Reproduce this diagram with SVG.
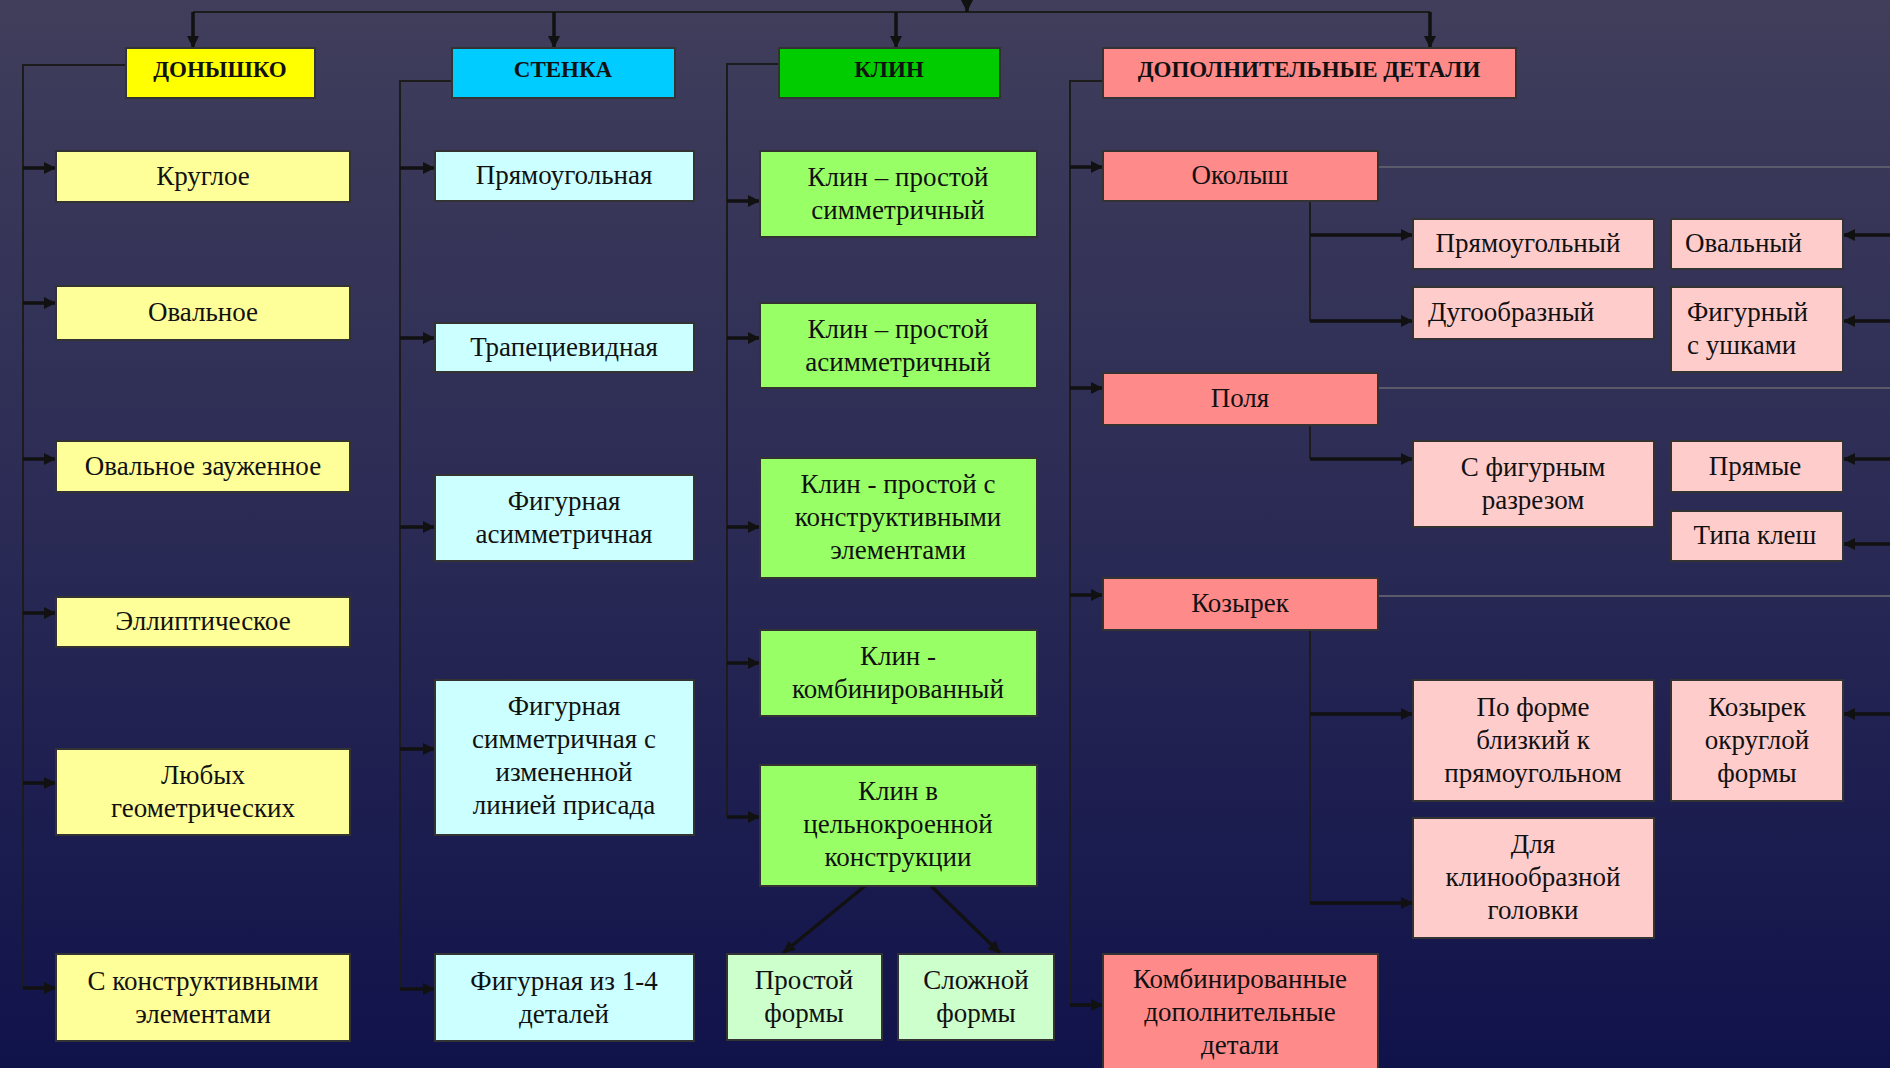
<svg xmlns="http://www.w3.org/2000/svg" width="1890" height="1068" viewBox="0 0 1890 1068">
<defs>
<linearGradient id="bg" x1="0" y1="0" x2="0" y2="1">
<stop offset="0" stop-color="#403e5b"/>
<stop offset="0.5" stop-color="#2a2a55"/>
<stop offset="1" stop-color="#10124a"/>
</linearGradient>
<marker id="ah" viewBox="0 0 12 12" refX="12" refY="6" markerWidth="12" markerHeight="12" markerUnits="userSpaceOnUse" orient="auto">
<path d="M0,0 L12,6 L0,12 z" fill="#111"/>
</marker>
<style>
.box{stroke:#333;stroke-width:2}
.t{font-family:"Liberation Serif","Times New Roman",serif;font-size:27px;fill:#111;text-anchor:middle}
.ts{font-family:"Liberation Serif","Times New Roman",serif;font-size:27px;fill:#111;text-anchor:start}
.h{font-family:"Liberation Serif","Times New Roman",serif;font-size:23px;font-weight:bold;fill:#111;text-anchor:middle}
.y0{fill:#ffff00}.y1{fill:#ffff99}
.c0{fill:#00ccff}.c1{fill:#ccffff}
.g0{fill:#00cc00}.g1{fill:#99ff66}.g2{fill:#ccffcc}
.p0{fill:#ff8a8a}.p1{fill:#ffcccc}
.trunk{fill:none;stroke:#1c1c1c;stroke-width:2}
.gl{fill:none;stroke:#5a5a6a;stroke-width:2}
.stub{fill:none;stroke:#111;stroke-width:3.5;marker-end:url(#ah)}
</style>
</defs>
<rect width="1890" height="1068" fill="url(#bg)"/>

<g id="connectors">
<path class="trunk" d="M193,12 H1430"/>
<path class="stub" d="M967,0 V12"/>
<path class="stub" d="M193,12 V48"/>
<path class="stub" d="M554,12 V48"/>
<path class="stub" d="M896,12 V48"/>
<path class="stub" d="M1430,12 V48"/>
<path class="trunk" d="M126,65 H23 V988"/>
<path class="stub" d="M23,168 H56"/>
<path class="stub" d="M23,303 H56"/>
<path class="stub" d="M23,459 H56"/>
<path class="stub" d="M23,613 H56"/>
<path class="stub" d="M23,783 H56"/>
<path class="stub" d="M23,988 H56"/>
<path class="trunk" d="M452,81 H400 V989"/>
<path class="stub" d="M400,168 H435"/>
<path class="stub" d="M400,338 H435"/>
<path class="stub" d="M400,527 H435"/>
<path class="stub" d="M400,749 H435"/>
<path class="stub" d="M400,989 H435"/>
<path class="trunk" d="M779,64 H727 V817"/>
<path class="stub" d="M727,201 H760"/>
<path class="stub" d="M727,338 H760"/>
<path class="stub" d="M727,527 H760"/>
<path class="stub" d="M727,663 H760"/>
<path class="stub" d="M727,817 H760"/>
<path class="stub" d="M865,886 L783,953"/>
<path class="stub" d="M931,886 L1000,953"/>
<path class="trunk" d="M1103,81 H1070 V1005"/>
<path class="stub" d="M1070,167 H1103"/>
<path class="stub" d="M1070,388 H1103"/>
<path class="stub" d="M1070,595 H1103"/>
<path class="stub" d="M1070,1005 H1103"/>
<path class="trunk" d="M1310,201 V321"/>
<path class="stub" d="M1310,235 H1413"/>
<path class="stub" d="M1310,321 H1413"/>
<path class="trunk" d="M1310,425 V459"/>
<path class="stub" d="M1310,459 H1413"/>
<path class="trunk" d="M1310,630 V903"/>
<path class="stub" d="M1310,714 H1413"/>
<path class="stub" d="M1310,903 H1413"/>
<path class="gl" d="M1378,167 H1890"/>
<path class="gl" d="M1378,388 H1890"/>
<path class="gl" d="M1378,596 H1890"/>
<path class="stub" d="M1890,235 H1843"/>
<path class="stub" d="M1890,321 H1843"/>
<path class="stub" d="M1890,459 H1843"/>
<path class="stub" d="M1890,544 H1843"/>
<path class="stub" d="M1890,714 H1843"/>
</g>

<g id="n-donyshko"><rect class="box y0" x="126" y="48" width="189" height="50"/><text class="h" x="220" y="77">ДОНЫШКО</text></g>
<g id="n-stenka"><rect class="box c0" x="452" y="48" width="223" height="50"/><text class="h" x="563" y="77">СТЕНКА</text></g>
<g id="n-klin"><rect class="box g0" x="779" y="48" width="221" height="50"/><text class="h" x="889" y="77">КЛИН</text></g>
<g id="n-dop"><rect class="box p0" x="1103" y="48" width="413" height="50"/><text class="h" x="1309" y="77">ДОПОЛНИТЕЛЬНЫЕ ДЕТАЛИ</text></g>

<g id="n-krugloe"><rect class="box y1" x="56" y="151" width="294" height="51"/><text class="t" x="203" y="185">Круглое</text></g>
<g id="n-ovalnoe"><rect class="box y1" x="56" y="286" width="294" height="54"/><text class="t" x="203" y="321">Овальное</text></g>
<g id="n-ovalnoe-z"><rect class="box y1" x="56" y="441" width="294" height="51"/><text class="t" x="203" y="475">Овальное зауженное</text></g>
<g id="n-ellipt"><rect class="box y1" x="56" y="597" width="294" height="50"/><text class="t" x="203" y="630">Эллиптическое</text></g>
<g id="n-lyubyh"><rect class="box y1" x="56" y="749" width="294" height="86"/><text class="t" x="203" y="784"><tspan x="203">Любых</tspan><tspan x="203" dy="33">геометрических</tspan></text></g>
<g id="n-s-konstr"><rect class="box y1" x="56" y="954" width="294" height="87"/><text class="t" x="203" y="990"><tspan x="203">С конструктивными</tspan><tspan x="203" dy="33">элементами</tspan></text></g>

<g id="n-pryam"><rect class="box c1" x="435" y="151" width="259" height="50"/><text class="t" x="564" y="184">Прямоугольная</text></g>
<g id="n-trap"><rect class="box c1" x="435" y="323" width="259" height="49"/><text class="t" x="564" y="356">Трапециевидная</text></g>
<g id="n-fig-asim"><rect class="box c1" x="435" y="475" width="259" height="86"/><text class="t" x="564" y="510"><tspan x="564">Фигурная</tspan><tspan x="564" dy="33">асимметричная</tspan></text></g>
<g id="n-fig-sim"><rect class="box c1" x="435" y="680" width="259" height="155"/><text class="t" x="564" y="715"><tspan x="564">Фигурная</tspan><tspan x="564" dy="33">симметричная с</tspan><tspan x="564" dy="33">измененной</tspan><tspan x="564" dy="33">линией присада</tspan></text></g>
<g id="n-fig-14"><rect class="box c1" x="435" y="954" width="259" height="87"/><text class="t" x="564" y="990"><tspan x="564">Фигурная из 1-4</tspan><tspan x="564" dy="33">деталей</tspan></text></g>

<g id="n-klin-sim"><rect class="box g1" x="760" y="151" width="277" height="86"/><text class="t" x="898" y="186"><tspan x="898">Клин – простой</tspan><tspan x="898" dy="33">симметричный</tspan></text></g>
<g id="n-klin-asim"><rect class="box g1" x="760" y="303" width="277" height="85"/><text class="t" x="898" y="338"><tspan x="898">Клин – простой</tspan><tspan x="898" dy="33">асимметричный</tspan></text></g>
<g id="n-klin-konstr"><rect class="box g1" x="760" y="458" width="277" height="120"/><text class="t" x="898" y="493"><tspan x="898">Клин - простой с</tspan><tspan x="898" dy="33">конструктивными</tspan><tspan x="898" dy="33">элементами</tspan></text></g>
<g id="n-klin-komb"><rect class="box g1" x="760" y="630" width="277" height="86"/><text class="t" x="898" y="665"><tspan x="898">Клин -</tspan><tspan x="898" dy="33">комбинированный</tspan></text></g>
<g id="n-klin-cel"><rect class="box g1" x="760" y="765" width="277" height="121"/><text class="t" x="898" y="800"><tspan x="898">Клин в</tspan><tspan x="898" dy="33">цельнокроенной</tspan><tspan x="898" dy="33">конструкции</tspan></text></g>
<g id="n-prostoy"><rect class="box g2" x="727" y="954" width="155" height="86"/><text class="t" x="804" y="989"><tspan x="804">Простой</tspan><tspan x="804" dy="33">формы</tspan></text></g>
<g id="n-slozhnoy"><rect class="box g2" x="898" y="954" width="156" height="86"/><text class="t" x="976" y="989"><tspan x="976">Сложной</tspan><tspan x="976" dy="33">формы</tspan></text></g>

<g id="n-okolysh"><rect class="box p0" x="1103" y="151" width="275" height="50"/><text class="t" x="1240" y="184">Околыш</text></g>
<g id="n-polya"><rect class="box p0" x="1103" y="373" width="275" height="52"/><text class="t" x="1240" y="407">Поля</text></g>
<g id="n-kozyrek"><rect class="box p0" x="1103" y="578" width="275" height="52"/><text class="t" x="1240" y="612">Козырек</text></g>
<g id="n-komb-dop"><rect class="box p0" x="1103" y="954" width="275" height="125"/><text class="t" x="1240" y="988"><tspan x="1240">Комбинированные</tspan><tspan x="1240" dy="33">дополнительные</tspan><tspan x="1240" dy="33">детали</tspan></text></g>

<g id="n-pryamougolny"><rect class="box p1" x="1413" y="219" width="241" height="50"/><text class="t" x="1528" y="252">Прямоугольный</text></g>
<g id="n-dugoobr"><rect class="box p1" x="1413" y="287" width="241" height="52"/><text class="ts" x="1428" y="321">Дугообразный</text></g>
<g id="n-ovalny"><rect class="box p1" x="1671" y="219" width="172" height="50"/><text class="ts" x="1685" y="252">Овальный</text></g>
<g id="n-figurny"><rect class="box p1" x="1671" y="287" width="172" height="85"/><text class="ts" x="1687" y="321"><tspan x="1687">Фигурный</tspan><tspan x="1687" dy="33">с ушками</tspan></text></g>
<g id="n-s-fig-razr"><rect class="box p1" x="1413" y="441" width="241" height="86"/><text class="t" x="1533" y="476"><tspan x="1533">С фигурным</tspan><tspan x="1533" dy="33">разрезом</tspan></text></g>
<g id="n-pryamye"><rect class="box p1" x="1671" y="441" width="172" height="51"/><text class="t" x="1755" y="475">Прямые</text></g>
<g id="n-klesh"><rect class="box p1" x="1671" y="511" width="172" height="50"/><text class="t" x="1755" y="544">Типа клеш</text></g>
<g id="n-po-forme"><rect class="box p1" x="1413" y="680" width="241" height="121"/><text class="t" x="1533" y="716"><tspan x="1533">По форме</tspan><tspan x="1533" dy="33">близкий к</tspan><tspan x="1533" dy="33">прямоугольном</tspan></text></g>
<g id="n-kozyrek-okr"><rect class="box p1" x="1671" y="680" width="172" height="121"/><text class="t" x="1757" y="716"><tspan x="1757">Козырек</tspan><tspan x="1757" dy="33">округлой</tspan><tspan x="1757" dy="33">формы</tspan></text></g>
<g id="n-dlya-klin"><rect class="box p1" x="1413" y="818" width="241" height="120"/><text class="t" x="1533" y="853"><tspan x="1533">Для</tspan><tspan x="1533" dy="33">клинообразной</tspan><tspan x="1533" dy="33">головки</tspan></text></g>
</svg>
